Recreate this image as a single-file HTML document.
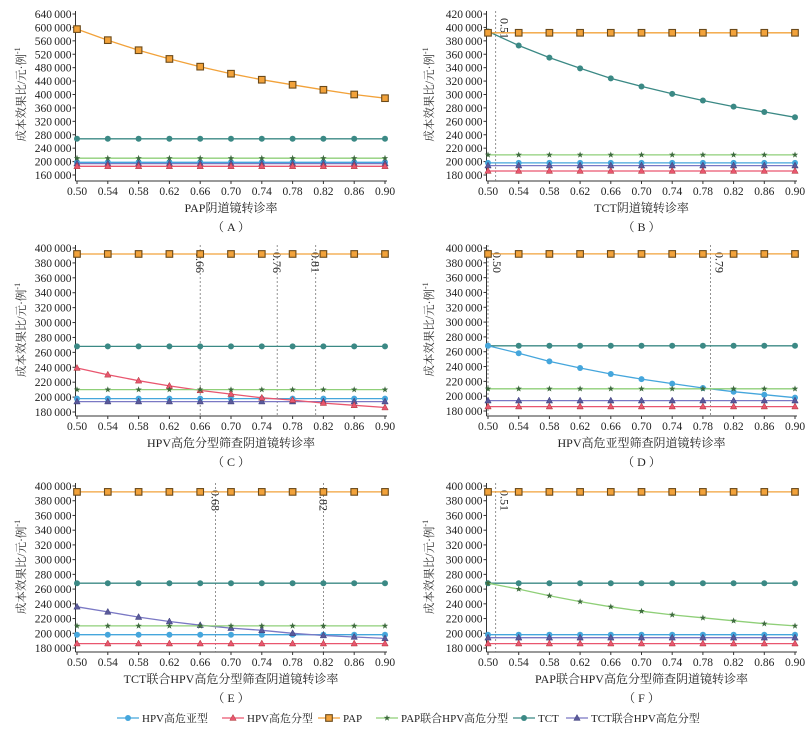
<!DOCTYPE html>
<html><head><meta charset="utf-8"><style>
body{margin:0;background:#fff}
svg{display:block;font-family:"Liberation Serif","Noto Serif CJK SC","Noto Sans CJK SC",serif}
</style></head><body>
<svg id="chart" width="811" height="729" viewBox="0 0 811 729" xmlns="http://www.w3.org/2000/svg"></svg>
<script>
const xVals=[0.50,0.54,0.58,0.62,0.66,0.70,0.74,0.78,0.82,0.86,0.90];
const seriesNames=["HPV高危亚型","HPV高危分型","PAP","PAP联合HPV高危分型","TCT","TCT联合HPV高危分型"];
const baseHPVsub=198000, baseHPVtype=186000, basePAP=392000, basePAPcomb=210000, baseTCT=268000, baseTCTcomb=194000;
const curveA_PAP=[595000,562000,532000,506000,483000,462000,444000,429000,414000,400000,389000];
const curveB_TCT=[394000,373000,355000,339000,324000,312000,301000,291000,282000,274000,266000];
const curveC_HPVtype=[239000,230000,222000,215000,209000,204000,199000,196000,192000,189000,186000];
const curveD_HPVsub=[268000,258000,247000,238000,230000,223000,217000,211000,206000,202000,198000];
const curveE_TCTcomb=[236000,229000,222000,216000,211000,207000,204000,200000,197000,195000,193000];
const curveF_PAPcomb=[268000,260000,251000,243000,236000,230000,225000,221000,217000,213000,210000];
const thresholdsA=[], thresholdsB=[0.51], thresholdsC=[0.66,0.76,0.81], thresholdsD=[0.50,0.79], thresholdsE=[0.68,0.82], thresholdsF=[0.51];
const xTickLabels=["0.50","0.54","0.58","0.62","0.66","0.70","0.74","0.78","0.82","0.86","0.90"];

const NS="http://www.w3.org/2000/svg";
const svg=document.getElementById('chart');
function mk(tag,attrs,parent){const e=document.createElementNS(NS,tag);for(const k in attrs)e.setAttribute(k,attrs[k]);(parent||svg).appendChild(e);return e;}
const styles=[
 {c:"#45a6dc",m:"circle",f:"#45a6dc",s:"#45a6dc"},
 {c:"#e9566f",m:"tri",f:"#e9566f",s:"#a33"},
 {c:"#f2a23a",m:"square",f:"#f2a23a",s:"#6b4a1a"},
 {c:"#8fcf78",m:"star",f:"#3e6b3e",s:"#3e6b3e"},
 {c:"#3b8985",m:"circle",f:"#3b8985",s:"#3b8985"},
 {c:"#7a78c4",m:"tri",f:"#5a5a9a",s:"#3b3b7a"}
];
function marker(g,t,x,y,st){
 let e;
 if(t==="circle") e=mk('circle',{cx:x,cy:y,r:3,fill:st.f},g);
 else if(t==="square") e=mk('rect',{x:x-3.3,y:y-3.3,width:6.6,height:6.6,fill:st.f,stroke:st.s,'stroke-width':1.1},g);
 else if(t==="tri") e=mk('polygon',{points:`${x},${y-3.5} ${x-3.2},${y+2.4} ${x+3.2},${y+2.4}`,fill:st.f,stroke:st.s,'stroke-width':0.5},g);
 else {let p=[];for(let i=0;i<10;i++){const r=i%2?1.4:3.4,a=-Math.PI/2+i*Math.PI/5;p.push((x+r*Math.cos(a)).toFixed(1)+','+(y+r*Math.sin(a)).toFixed(1));}
   e=mk('polygon',{points:p.join(' '),fill:st.f},g);}
 return e;
}
function fmt(v){const s=String(v);return s.length>3?s.slice(0,s.length-3)+"\u2009"+s.slice(-3):s;}
function panel(cfg){
 const g=mk('g',{});
 
 
 const X=v=>cfg.x0+(v-0.5)/(0.4)*(cfg.x1-cfg.x0);
 const Y=v=>cfg.yBot-(v-cfg.ymin)/(cfg.ymax-cfg.ymin)*(cfg.yBot-cfg.yTop);
 const ax=cfg.x0-1.5;
 const yAxis=mk('line',{x1:ax,y1:cfg.yTop-3,x2:ax,y2:cfg.axY,stroke:"#333",'stroke-width':1},g);
 
 
 const xAxis=mk('line',{x1:ax,y1:cfg.axY,x2:cfg.x1+2,y2:cfg.axY,stroke:"#333",'stroke-width':1},g);
 
 
 for(let v=cfg.ymin;v<=cfg.ymax;v+=cfg.step){
  const y=Y(v);
  mk('line',{x1:ax-3,y1:y,x2:ax,y2:y,stroke:"#333"},g);
  const t=mk('text',{x:ax-4,y:y+4,'text-anchor':'end','font-size':11.5,fill:"#222"},g);
  t.textContent=fmt(v);
  
  
 }
 xVals.forEach((v,i)=>{
  const x=X(v);
  mk('line',{x1:x,y1:cfg.axY,x2:x,y2:cfg.axY+3,stroke:"#333"},g);
  const t=mk('text',{x:x,y:cfg.axY+14,'text-anchor':'middle','font-size':11.5,fill:"#222"},g);
  t.textContent=xTickLabels[i];
  
  
 });
 const yt=mk('text',{x:0,y:0,'text-anchor':'middle','font-size':11.5,fill:"#333",transform:`translate(${cfg.ytx},${(cfg.yTop+cfg.yBot)/2}) rotate(-90)`},g);
 yt.textContent="成本效果比/元·例";
 const sup=mk('tspan',{'font-size':8,dy:-5},yt);sup.textContent="-1";
 
 
 const xt=mk('text',{x:(cfg.x0+cfg.x1)/2,y:cfg.axY+31,'text-anchor':'middle','font-size':12,fill:"#222"},g);
 xt.textContent=cfg.xtitle;
 
 
 const cp=mk('text',{x:(cfg.x0+cfg.x1)/2,y:cfg.axY+50,'text-anchor':'middle','font-size':12,fill:"#222"},g);
 cp.textContent="（ "+cfg.id+" ）";
 
 
 cfg.th.forEach((v,k)=>{
  const x=X(v);
  const l=mk('line',{x1:x,y1:cfg.yTop-3,x2:x,y2:cfg.axY,stroke:"#777",'stroke-width':0.8,'stroke-dasharray':'2,2'},g);
  
  
  const lx=cfg.labLeft?x-4:x+5;
  const t=mk('text',{x:0,y:0,'font-size':12,fill:"#222",transform:`translate(${lx},${cfg.yTop+4}) rotate(90)`},g);
  t.textContent=v.toFixed(2);
  
  
 });
 const bases=[baseHPVsub,baseHPVtype,basePAP,basePAPcomb,baseTCT,baseTCTcomb];
 [4,0,5,1,3,2].forEach(si=>{
  const vals=si===cfg.vary?cfg.curve:xVals.map(()=>bases[si]);
  const st=styles[si];
  const sg=mk('g',{},g);
  
  
  const pts=vals.map((v,i)=>X(xVals[i]).toFixed(1)+','+Y(v).toFixed(1)).join(' ');
  mk('polyline',{points:pts,fill:'none',stroke:st.c,'stroke-width':1.3},sg);
  vals.forEach((v,i)=>{const m=marker(sg,st.m,X(xVals[i]),Y(v),st);
   
   });
 });
}
const L={x0:77,x1:385,ytx:25}, R={x0:488,x1:795,ytx:433};
panel({id:"A",...L,yTop:14,yBot:175,axY:181,ymin:160000,ymax:640000,step:40000,xtitle:"PAP阴道镜转诊率",vary:2,curve:curveA_PAP,th:thresholdsA});
panel({id:"B",...R,yTop:14,yBot:175,axY:181,ymin:180000,ymax:420000,step:20000,xtitle:"TCT阴道镜转诊率",vary:4,curve:curveB_TCT,th:thresholdsB});
panel({id:"C",...L,yTop:248,yBot:412,axY:416,ymin:180000,ymax:400000,step:20000,xtitle:"HPV高危分型筛查阴道镜转诊率",vary:1,curve:curveC_HPVtype,th:thresholdsC,labLeft:true});
panel({id:"D",...R,yTop:248,yBot:411,axY:416,ymin:180000,ymax:400000,step:20000,xtitle:"HPV高危亚型筛查阴道镜转诊率",vary:0,curve:curveD_HPVsub,th:thresholdsD});
panel({id:"E",...L,yTop:486,yBot:648,axY:652,ymin:180000,ymax:400000,step:20000,xtitle:"TCT联合HPV高危分型筛查阴道镜转诊率",vary:5,curve:curveE_TCTcomb,th:thresholdsE,labLeft:true});
panel({id:"F",...R,yTop:486,yBot:648,axY:652,ymin:180000,ymax:400000,step:20000,xtitle:"PAP联合HPV高危分型筛查阴道镜转诊率",vary:3,curve:curveF_PAPcomb,th:thresholdsF});
// legend
const legX=[117,222,318,376,513,566];
const lg=mk('g',{});


seriesNames.forEach((n,i)=>{
 const x=legX[i],y=718,st=styles[i];
 const eg=mk('g',{},lg);
 
 
 mk('line',{x1:x,y1:y,x2:x+22,y2:y,stroke:st.c,'stroke-width':1.3},eg);
 marker(eg,st.m,x+11,y,st);
 const t=mk('text',{x:x+25,y:y+4,'font-size':11,fill:"#222"},eg);
 t.textContent=n;
});
</script>
</body></html>
